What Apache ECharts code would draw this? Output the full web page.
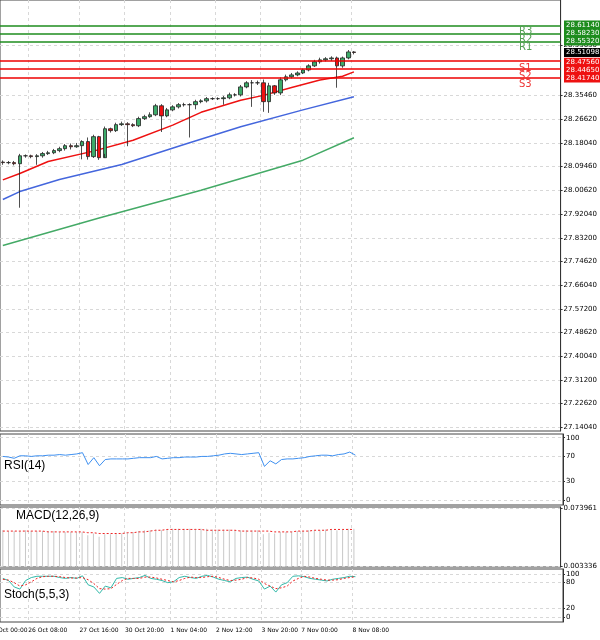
<!DOCTYPE html>
<html>
<head>
<meta charset="utf-8">
<title>Chart</title>
<script src="https://cdn.jsdelivr.net/npm/echarts@6/dist/echarts.min.js"></script>
<style>html,body{margin:0;padding:0;background:#fff}#chart{width:600px;height:640px}</style>
</head>
<body>
<div id="chart"></div>
<script>
// candle data (open of each bar = previous close)
var firstOpen = 28.110;
var closes = [28.108,28.108,28.104,28.133,28.133,28.130,28.133,28.141,28.144,28.152,
  28.159,28.170,28.166,28.170,28.185,28.130,28.203,28.126,28.232,28.225,
  28.247,28.250,28.247,28.243,28.269,28.276,28.283,28.316,28.279,28.301,
  28.312,28.320,28.320,28.320,28.331,28.334,28.342,28.342,28.342,28.345,
  28.356,28.356,28.385,28.400,28.400,28.400,28.331,28.389,28.363,28.411,
  28.422,28.429,28.436,28.447,28.462,28.477,28.484,28.488,28.491,28.462,
  28.491,28.513,28.51098];
var highs = [28.116,28.114,28.114,28.140,28.138,28.137,28.139,28.147,28.151,28.158,
  28.166,28.176,28.178,28.180,28.190,28.200,28.210,28.206,28.240,28.236,
  28.254,28.258,28.256,28.252,28.276,28.283,28.292,28.323,28.322,28.308,
  28.318,28.326,28.327,28.325,28.338,28.340,28.348,28.347,28.347,28.352,
  28.364,28.362,28.392,28.406,28.410,28.408,28.412,28.400,28.392,28.420,
  28.430,28.436,28.442,28.452,28.468,28.484,28.492,28.494,28.497,28.496,
  28.496,28.520,28.516];
var lows = [28.100,28.102,28.098,27.943,28.126,28.124,28.100,28.126,28.136,28.139,
  28.146,28.152,28.156,28.162,28.120,28.119,28.125,28.118,28.140,28.218,
  28.220,28.242,28.168,28.238,28.238,28.264,28.272,28.278,28.220,28.274,
  28.296,28.306,28.313,28.200,28.303,28.325,28.328,28.337,28.337,28.320,
  28.340,28.350,28.350,28.380,28.312,28.392,28.294,28.290,28.356,28.355,
  28.405,28.416,28.424,28.432,28.442,28.458,28.470,28.478,28.480,28.382,
  28.455,28.486,28.504];

// moving averages read at a few bars: [barIndex, value]
var maRed = [[0,28.045],[3,28.068],[8,28.112],[16,28.150],[23,28.190],[30,28.245],[35,28.292],[42,28.336],[46,28.354],[51,28.383],[56,28.410],[60,28.424],[62,28.440]];
var maBlue = [[0,27.973],[3,28.002],[10,28.046],[21,28.101],[32,28.174],[42,28.239],[53,28.301],[62,28.349]];
var maGreen = [[0,27.805],[17,27.905],[35,28.007],[53,28.117],[62,28.199]];

var resist = [['R3',28.6114],['R2',28.5823],['R1',28.5532]];
var support = [['S1',28.4756],['S2',28.4465],['S3',28.4174]];
var lastPrice = 28.51098;

var priceTicks = [28.5363,28.3546,28.2662,28.1804,28.0946,28.0062,27.9204,27.8320,27.7462,27.6604,27.5720,27.4862,27.4004,27.3120,27.2262,27.1404];

var rsi = [70,69,67,71,71,70,71,71,72,72,73,72,73,74,76,
  57,68,55,65,66,
  66,66,66,67,68,68,68,70,66,67,
  68,68,69,69,69,70,70,71,72,74,75,74,73,74,75,76,
  54,63,58,65,66,
  66,67,68,70,71,72,72,71,73,74,77,72];
var macdHist = [0.047,0.046,0.046,0.046,0.047,0.046,0.046,0.046,0.046,0.046,
  0.045,0.045,0.045,0.045,0.045,0.041,0.043,0.039,0.042,0.042,
  0.043,0.043,0.044,0.045,0.046,0.047,0.047,0.048,0.047,0.048,
  0.049,0.049,0.049,0.049,0.049,0.049,0.049,0.048,0.048,0.048,
  0.048,0.047,0.047,0.047,0.047,0.047,0.042,0.044,0.043,0.045,
  0.045,0.045,0.046,0.046,0.047,0.047,0.047,0.048,0.048,0.047,0.048,0.049,0.049];
var macdSignal = [0.046,0.046,0.046,0.046,0.046,0.046,0.046,0.046,0.045,0.045,
  0.045,0.045,0.045,0.045,0.045,0.044,0.044,0.043,0.043,0.043,
  0.043,0.043,0.044,0.044,0.045,0.045,0.046,0.047,0.047,0.048,
  0.048,0.048,0.048,0.048,0.048,0.048,0.047,0.047,0.047,0.047,
  0.047,0.047,0.046,0.046,0.046,0.046,0.046,0.046,0.045,0.045,
  0.045,0.045,0.046,0.046,0.046,0.047,0.047,0.047,0.048,0.048,0.048,0.048,0.048];
var stochK = [90,85,70,65,85,92,95,95,95,95, 92,90,92,90,96,75,70,55,72,68,
  90,92,88,90,92,97,90,88,85,80, 82,92,95,92,90,95,97,93,88,85,
  82,90,92,93,88,84,65,72,58,75, 80,95,96,94,90,88,86,84,88,90,92,95,94];
var stochD = [88,86,80,72,75,82,90,94,95,95, 94,92,91,91,92,87,78,66,65,66,
  76,85,90,90,90,93,93,91,88,85, 82,85,90,93,92,92,94,95,92,88,
  85,86,88,92,91,88,78,72,66,68, 72,84,90,95,93,90,88,86,86,87,90,92,94];

var slotCount = 99;
// bar index where each time label starts
var xTickIdx = [-2,5,14,22,30,38,46,53,62];
var xTickText = ['25 Oct 00:00','26 Oct 08:00','27 Oct 16:00','30 Oct 20:00','1 Nov 04:00','2 Nov 12:00','3 Nov 20:00','7 Nov 00:00','8 Nov 08:00'];

var cats = [];
for (var i = 0; i < slotCount; i++) cats.push(String(i));
var candles = closes.map(function (c, i) {
  var o = i === 0 ? firstOpen : closes[i - 1];
  return [o, c, lows[i], highs[i]];
});

var chart = echarts.init(document.getElementById('chart'));
var font = 'DejaVu Sans';
var dashed = { color: '#d8d8d8', type: [3, 3] };
function xAx(idx) {
  return {
    type: 'category', gridIndex: idx, data: cats, boundaryGap: true,
    axisLine: { show: false }, axisTick: { show: false }, axisLabel: { show: false },
    splitLine: { show: true, interval: function (i) { return xTickIdx.indexOf(i) >= 0; }, lineStyle: dashed }
  };
}
function yAx(idx, min, max, vals, fmt) {
  return {
    type: 'value', gridIndex: idx, position: 'right', min: min, max: max, scale: true,
    axisLine: { show: true, lineStyle: { color: '#333' } },
    axisTick: { show: true, customValues: vals, length: 2 },
    axisLabel: { customValues: vals, fontSize: 7, color: '#000', fontFamily: font, margin: 3, formatter: fmt },
    splitLine: { show: true, customValues: vals, lineStyle: dashed }
  };
}

var option = {
  animation: false,
  grid: [
    { left: 0, width: 563, top: 0, height: 431, show: true, borderColor: '#444', borderWidth: 1 },
    { left: 0, width: 563, top: 434, height: 71, show: true, borderColor: '#444', borderWidth: 1 },
    { left: 0, width: 563, top: 507, height: 60, show: true, borderColor: '#444', borderWidth: 1 },
    { left: 0, width: 563, top: 569, height: 53, show: true, borderColor: '#444', borderWidth: 1 }
  ],
  xAxis: [xAx(0), xAx(1), xAx(2), xAx(3)],
  yAxis: [
    yAx(0, 27.126, 28.703, priceTicks, function (v) { return v.toFixed(5); }),
    yAx(1, -8, 106, [0, 30, 70, 100]),
    yAx(2, 0.0020, 0.0755, [0.003336, 0.073961], function (v) { return String(v); }),
    yAx(3, -12, 112, [0, 20, 80, 100])
  ],
  series: [
    {
      type: 'candlestick', xAxisIndex: 0, yAxisIndex: 0, data: candles, barWidth: 4,
      itemStyle: { color: '#3cab6a', color0: '#ee1111', borderColor: '#222', borderColor0: '#222', borderWidth: 0.8 },
      markLine: {
        symbol: 'none', silent: true, label: { show: false },
        data: resist.map(function (r) { return { yAxis: r[1], lineStyle: { color: '#1e8c1e', width: 1.5, type: 'solid' } }; })
          .concat(support.map(function (s) { return { yAxis: s[1], lineStyle: { color: '#ee0000', width: 1.5, type: 'solid' } }; }))
      }
    },
    { type: 'line', data: maRed, showSymbol: false, lineStyle: { color: '#ee1111', width: 1.5 }, z: 1 },
    { type: 'line', data: maBlue, showSymbol: false, lineStyle: { color: '#4466dd', width: 1.5 }, z: 1 },
    { type: 'line', data: maGreen, showSymbol: false, lineStyle: { color: '#44aa66', width: 1.5 }, z: 1 },
    { type: 'line', xAxisIndex: 1, yAxisIndex: 1, data: rsi, showSymbol: false, lineStyle: { color: '#3d8ff0', width: 1 } },
    { type: 'bar', xAxisIndex: 2, yAxisIndex: 2, data: macdHist, barWidth: 1, itemStyle: { color: '#c8c8c8' } },
    { type: 'line', xAxisIndex: 2, yAxisIndex: 2, data: macdSignal, showSymbol: false, lineStyle: { color: '#ee2222', width: 1, type: [2, 2] } },
    { type: 'line', xAxisIndex: 3, yAxisIndex: 3, data: stochK, showSymbol: false, lineStyle: { color: '#30b8a8', width: 1 } },
    { type: 'line', xAxisIndex: 3, yAxisIndex: 3, data: stochD, showSymbol: false, lineStyle: { color: '#ee2222', width: 1, type: [2, 2] } }
  ]
};
chart.setOption(option);

// time labels, level names and price boxes
var g = [];
var x0 = chart.convertToPixel({ xAxisIndex: 3 }, '0');
var step = chart.convertToPixel({ xAxisIndex: 3 }, '1') - x0;
xTickIdx.forEach(function (idx, k) {
  g.push({ type: 'text', x: x0 + idx * step - 3, y: 630, style: { text: xTickText[k], fill: '#000', fontSize: 6, fontFamily: font, align: 'left', verticalAlign: 'middle' } });
});
function box(v, bg, fg) {
  var y = chart.convertToPixel({ yAxisIndex: 0 }, v);
  g.push({ type: 'rect', shape: { x: 564, y: y - 4.5, width: 36, height: 9 }, style: { fill: bg }, z: 50 });
  g.push({ type: 'text', x: 566, y: y, style: { text: v.toFixed(5), fill: fg, fontSize: 7, fontFamily: font, verticalAlign: 'middle' }, z: 51 });
}
resist.forEach(function (r) {
  var y = chart.convertToPixel({ yAxisIndex: 0 }, r[1]);
  g.push({ type: 'text', x: 519, y: y + 1, style: { text: r[0], fill: '#55a055', fontSize: 10, fontFamily: font, verticalAlign: 'top' }, z: 40 });
  box(r[1], '#1e8c1e', '#fff');
});
support.forEach(function (s) {
  var y = chart.convertToPixel({ yAxisIndex: 0 }, s[1]);
  g.push({ type: 'text', x: 519, y: y + 1, style: { text: s[0], fill: '#ee3333', fontSize: 10, fontFamily: font, verticalAlign: 'top' }, z: 40 });
  box(s[1], '#ee1111', '#fff');
});
box(lastPrice, '#000', '#fff');
g.push({ type: 'text', x: 4, y: 460, style: { text: 'RSI(14)', fill: '#000', fontSize: 12, fontFamily: 'Liberation Sans' } });
g.push({ type: 'text', x: 16, y: 510, style: { text: 'MACD(12,26,9)', fill: '#000', fontSize: 12, fontFamily: 'Liberation Sans' } });
g.push({ type: 'text', x: 4, y: 589, style: { text: 'Stoch(5,5,3)', fill: '#000', fontSize: 12, fontFamily: 'Liberation Sans' } });
chart.setOption({ graphic: g });
</script>
</body>
</html>
